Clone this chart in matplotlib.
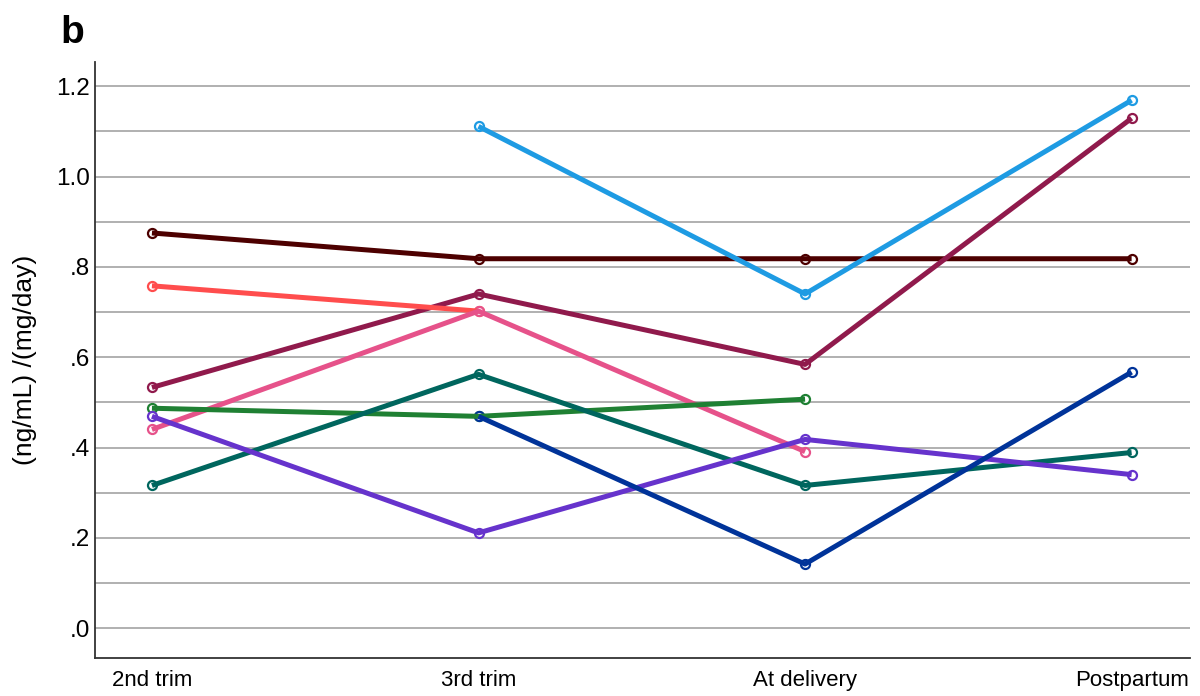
import numpy as np
import matplotlib
matplotlib.use("Agg")
from matplotlib import pyplot as plt
from matplotlib.ticker import FixedLocator, FuncFormatter

plt.rcParams['font.family'] = ['Liberation Sans', 'DejaVu Sans']

timepoints = ['2nd trim', '3rd trim', 'At delivery', 'Postpartum']
nan = np.nan

# one row per subject, nan where no sample was taken
subj_dark_brown = [0.875, 0.818, 0.818, 0.818]
subj_light_blue = [nan, 1.111, 0.740, 1.169]
subj_maroon = [0.533, 0.740, 0.584, 1.129]
subj_coral = [0.758, 0.702, nan, nan]
subj_pink = [0.440, 0.702, 0.391, nan]
subj_green = [0.487, 0.469, 0.507, nan]
subj_teal = [0.316, 0.562, 0.316, 0.389]
subj_purple = [0.469, 0.211, 0.418, 0.340]
subj_navy = [nan, 0.469, 0.142, 0.567]

series = [
    (subj_dark_brown, '#4d0000'),
    (subj_light_blue, '#1e9be3'),
    (subj_maroon, '#901a4c'),
    (subj_coral, '#ff4d4d'),
    (subj_pink, '#e6528a'),
    (subj_green, '#1f8033'),
    (subj_teal, '#00665e'),
    (subj_purple, '#6633cc'),
    (subj_navy, '#003399'),
]

fig = plt.figure(figsize=(12, 6.96), dpi=100)
ax = fig.add_axes([0.079, 0.0546, 0.913, 0.8566])

x = np.arange(len(timepoints))
for vals, col in series:
    v = np.array(vals, dtype=float)
    ok = ~np.isnan(v)
    # hollow markers sit under the line
    ax.plot(x[ok], v[ok], 'o', ms=6.5, mfc='white', mec=col, mew=1.6, zorder=3)
    ax.plot(x, v, '-', color=col, lw=3.6, solid_capstyle='butt', zorder=4)

ax.set_xlim(-0.175, 3.18)
ax.set_ylim(-0.066, 1.254)

ax.yaxis.set_major_locator(FixedLocator(np.arange(0, 1.21, 0.2)))
ax.yaxis.set_minor_locator(FixedLocator(np.arange(0.1, 1.2, 0.2)))
ax.yaxis.set_major_formatter(FuncFormatter(
    lambda v, p: ('%.1f' % v).lstrip('0') if v < 1 else '%.1f' % v))
ax.grid(axis='y', which='both', color='#b0b0b0', lw=1.4, zorder=0)
ax.set_axisbelow(True)

ax.set_xticks(x)
ax.set_xticklabels(timepoints, fontsize=16)
ax.tick_params(axis='x', length=0, pad=9)
ax.tick_params(axis='y', which='both', length=0, pad=3.5, labelsize=17.5)

for s in ['top', 'right']:
    ax.spines[s].set_visible(False)
for s in ['left', 'bottom']:
    ax.spines[s].set_color('#333333')
    ax.spines[s].set_linewidth(1.3)

ax.set_ylabel('(ng/mL) /(mg/day)', fontsize=19, labelpad=14)
fig.text(0.05, 0.978, 'b', fontsize=28, fontweight='bold', va='top')

fig.savefig('out.png', dpi=100)
